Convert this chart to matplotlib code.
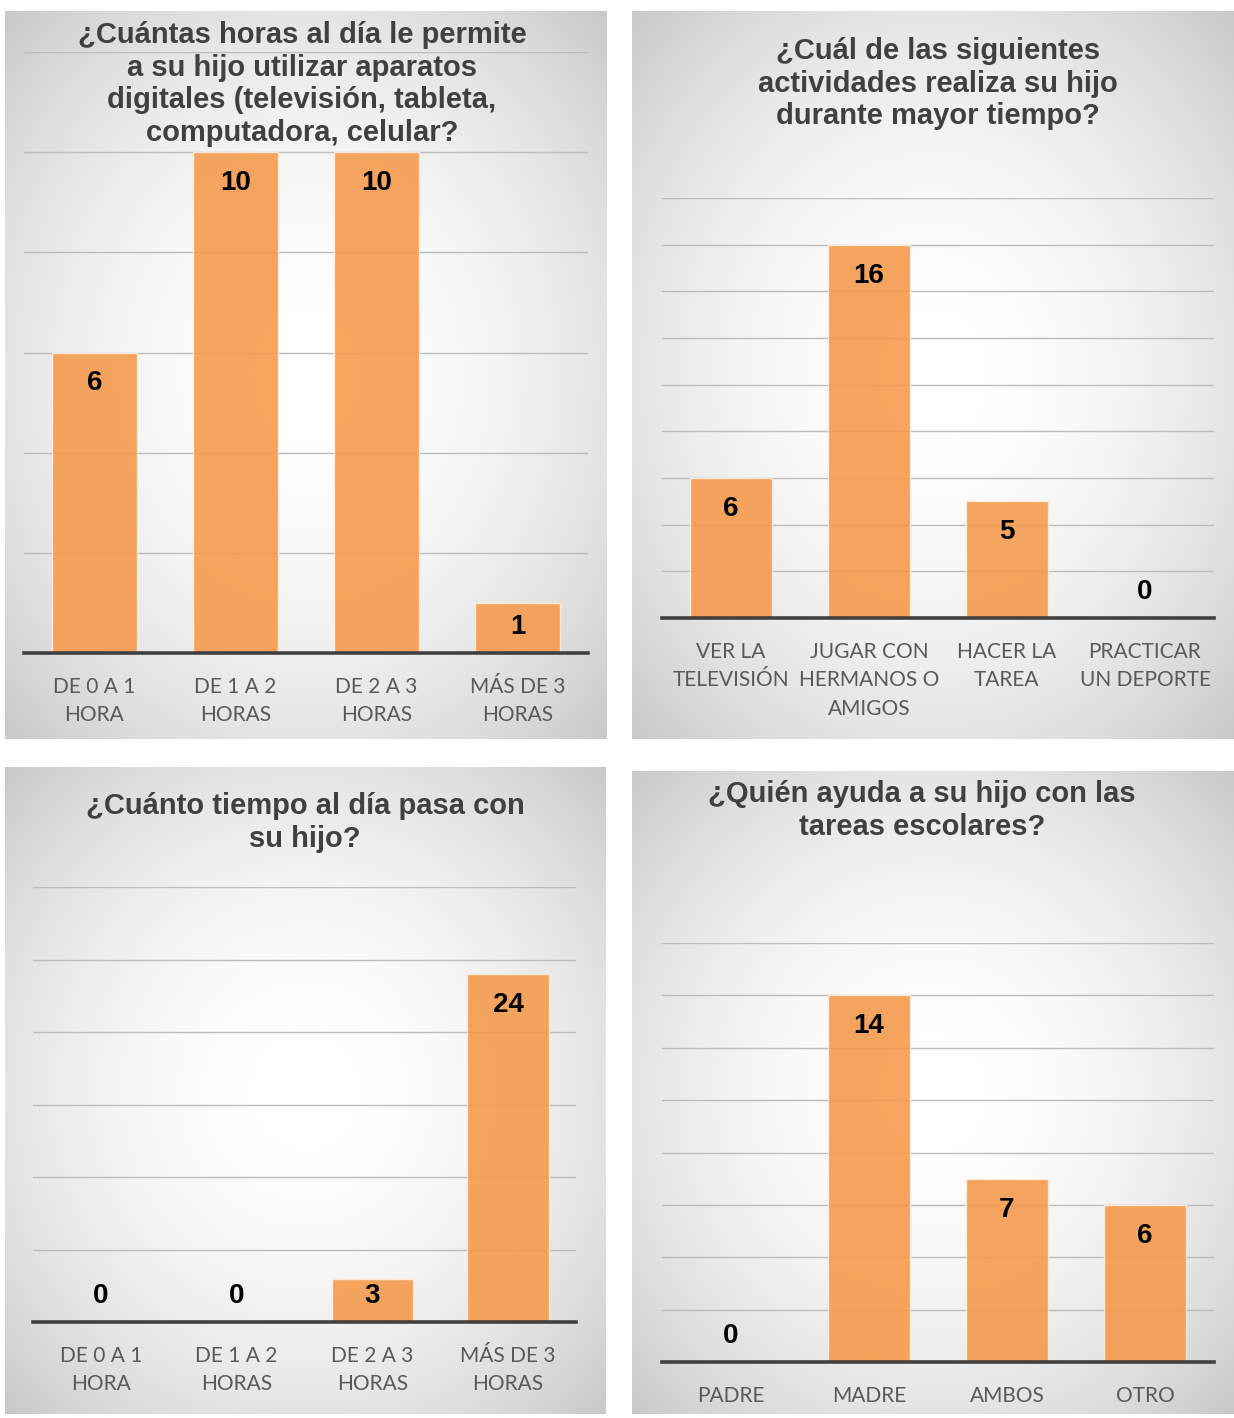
import numpy as np
import matplotlib
matplotlib.use("Agg")
import matplotlib.pyplot as plt

# ---------------- data ----------------
titles = [
    "¿Cuántas horas al día le permite\na su hijo utilizar aparatos\ndigitales (televisión, tableta,\ncomputadora, celular?",
    "¿Cuál de las siguientes\nactividades realiza su hijo\ndurante mayor tiempo?",
    "¿Cuánto tiempo al día pasa con\nsu hijo?",
    "¿Quién ayuda a su hijo con las\ntareas escolares?",
]
cats1 = ["DE 0 A 1\nHORA", "DE 1 A 2\nHORAS", "DE 2 A 3\nHORAS", "MÁS DE 3\nHORAS"]
vals1 = [6, 10, 10, 1]
cats2 = ["VER LA\nTELEVISIÓN", "JUGAR CON\nHERMANOS O\nAMIGOS", "HACER LA\nTAREA", "PRACTICAR\nUN DEPORTE"]
vals2 = [6, 16, 5, 0]
cats3 = ["DE 0 A 1\nHORA", "DE 1 A 2\nHORAS", "DE 2 A 3\nHORAS", "MÁS DE 3\nHORAS"]
vals3 = [0, 0, 3, 24]
cats4 = ["PADRE", "MADRE", "AMBOS", "OTRO"]
vals4 = [0, 14, 7, 6]
ymax = [12, 18, 30, 16]
ystep = [2, 2, 5, 2]

W, H = 1234, 1418
fig = plt.figure(figsize=(W / 100, H / 100), dpi=100)
fig.patch.set_facecolor("white")

def px_rect(x0, y0, x1, y1):
    return [x0 / W, 1 - y1 / H, (x1 - x0) / W, (y1 - y0) / H]

# panel background rects (px): x0, y0, x1, y1
panels = [(5, 11, 607, 739), (632, 11, 1233, 739), (5, 767, 606, 1414), (632, 771, 1233, 1414)]
# plot areas: x0, top, x1, baseline
plots = [(24, 52, 588, 653), (662, 198, 1214, 618), (33, 887, 576, 1322), (662, 943, 1214, 1362)]
title_pos = [(302, 21), (938, 37), (305, 792), (922, 780)]

# radial gradient
ny, nx = 300, 300
yy, xx = np.mgrid[-1:1:ny * 1j, -1:1:nx * 1j]
r2 = xx ** 2 + yy ** 2
g = np.clip(255 - 27 * r2, 0, 255) / 255.0
grad = np.dstack([g, g, g])

data = [(cats1, vals1), (cats2, vals2), (cats3, vals3), (cats4, vals4)]
bar_color = (244 / 255, 155 / 255, 77 / 255)

for k in range(4):
    bx0, by0, bx1, by1 = panels[k]
    bg = fig.add_axes(px_rect(bx0, by0, bx1, by1), zorder=0)
    bg.imshow(grad, aspect="auto", extent=[0, 1, 0, 1], interpolation="bilinear")
    bg.set_axis_off()

    px0, ptop, px1, pbase = plots[k]
    ax = fig.add_axes(px_rect(px0, ptop, px1, pbase), zorder=1)
    ax.patch.set_alpha(0)
    cats, vals = data[k]
    x = np.arange(len(cats))
    ax.bar(x, vals, width=0.6, color=bar_color, alpha=0.9,
           edgecolor=(1, 0.93, 0.88), linewidth=1.0, zorder=2)
    ax.set_xlim(-0.5, len(cats) - 0.5)
    ax.set_ylim(0, ymax[k])
    ax.set_yticks(np.arange(0, ymax[k] + 0.01, ystep[k]))
    ax.yaxis.grid(True, color="#bcbcbc", linewidth=1.0, zorder=1)
    ax.set_axisbelow(True)
    ax.tick_params(axis="y", left=False, labelleft=False)
    ax.tick_params(axis="x", bottom=False, pad=13.5)
    ax.set_xticks(x)
    ax.set_xticklabels(cats, fontsize=15, color="#595959", family="Lato",
                       linespacing=1.55, va="top")
    for sp in ax.spines.values():
        sp.set_visible(False)
    ax.axhline(0, color="#404040", linewidth=2.6, zorder=4, clip_on=False)

    px_per_unit = (pbase - ptop) / ymax[k]
    for i, v in enumerate(vals):
        hpx = v * px_per_unit
        off_px = min(31, hpx - 26)
        ax.annotate(str(v), (i, v), xytext=(0, -off_px * 0.72), textcoords="offset points",
                    ha="center", va="center", fontsize=20, fontweight="bold",
                    family="Liberation Sans", color="black", zorder=5)

    tx, ty = title_pos[k]
    fig.text(tx / W, 1 - ty / H, titles[k], ha="center", va="top", fontsize=21,
             fontweight="bold", family="Liberation Sans", color="#404040",
             linespacing=1.21, zorder=6)

fig.savefig("out.png", dpi=100, facecolor="white")
